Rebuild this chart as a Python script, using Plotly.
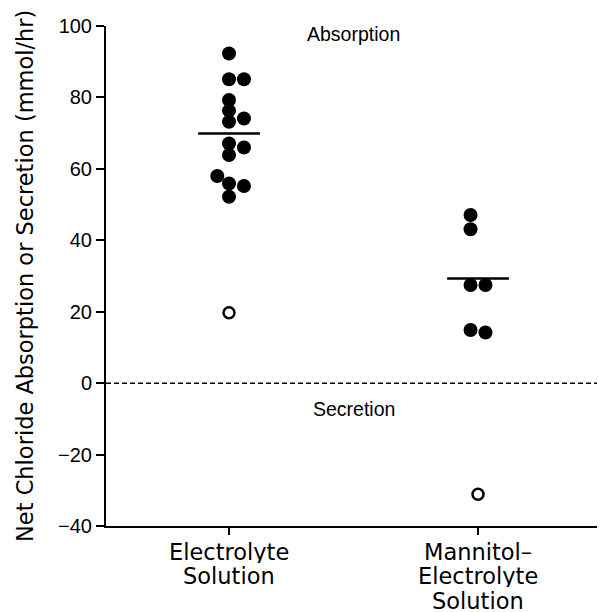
import plotly.graph_objects as go

# ---- data ----
category_lines = [["Electrolyte", "Solution"], ["Mannitol–", "Electrolyte", "Solution"]]
category_pos = [0, 1]
electrolyte_filled = [92.3, 85.1, 85.1, 79.3, 76.3, 74.1, 73.2, 67.1, 66.0, 63.9, 58.0, 55.9, 55.2, 52.2]
electrolyte_jitter = [0, 0, 0.06, 0, 0, 0.06, 0, 0, 0.06, 0, -0.047, 0, 0.06, 0]
electrolyte_open = [19.7]
electrolyte_mean = 69.9
mannitol_filled = [47.1, 43.1, 27.5, 27.5, 14.9, 14.2]
mannitol_jitter = [-0.03, -0.03, -0.03, 0.03, -0.03, 0.03]
mannitol_open = [-31.1]
mannitol_mean = 29.3
y_ticks = [-40, -20, 0, 20, 40, 60, 80, 100]
y_ticktext = ["−40", "−20", "0", "20", "40", "60", "80", "100"]

TICK_FONT = dict(family="Liberation Sans, Arial", size=20, color="black")
LABEL_FONT = dict(family="Liberation Sans, Arial", size=19.5, color="black")
CAT_FONT = dict(family="DejaVu Sans", size=22.5, color="black")
TITLE_FONT = dict(family="DejaVu Sans", size=22.5, color="black")

fig = go.Figure()

filled_style = dict(mode="markers", marker=dict(symbol="circle", size=14, color="black"),
                    showlegend=False, hoverinfo="y")
open_style = dict(mode="markers",
                  marker=dict(symbol="circle-open", size=11, color="black", line=dict(width=2.5)),
                  showlegend=False, hoverinfo="y")

fig.add_trace(go.Scatter(x=[category_pos[0] + j for j in electrolyte_jitter], y=electrolyte_filled, **filled_style))
fig.add_trace(go.Scatter(x=[category_pos[0]] * len(electrolyte_open), y=electrolyte_open, **open_style))
fig.add_trace(go.Scatter(x=[category_pos[1] + j for j in mannitol_jitter], y=mannitol_filled, **filled_style))
fig.add_trace(go.Scatter(x=[category_pos[1]] * len(mannitol_open), y=mannitol_open, **open_style))

# mean bars
hw = 0.124
for cx, m in [(category_pos[0], electrolyte_mean), (category_pos[1], mannitol_mean)]:
    fig.add_trace(go.Scatter(x=[cx - hw, cx + hw], y=[m, m], mode="lines",
                             line=dict(color="black", width=2.5), showlegend=False, hoverinfo="skip"))

# zero dashed line
fig.add_shape(type="line", xref="paper", yref="y", x0=0, x1=1, y0=0, y1=0,
              line=dict(color="black", width=1.5, dash="5px,3px"))

fig.add_annotation(x=0.5, y=97.8, xref="x", yref="y", text="Absorption", showarrow=False,
                   font=LABEL_FONT, xanchor="center", yanchor="middle")
fig.add_annotation(x=0.5, y=-7.2, xref="x", yref="y", text="Secretion", showarrow=False,
                   font=LABEL_FONT, xanchor="center", yanchor="middle")
fig.add_annotation(x=(25 - 106) / 499, y=0.5, xref="paper", yref="paper",
                   text="Net Chloride Absorption or Secretion (mmol/hr)", textangle=-90,
                   showarrow=False, font=TITLE_FONT, xanchor="center", yanchor="middle")

# category labels, one line each
line_y = [-0.05, -0.099, -0.148]
for pos, lines in zip(category_pos, category_lines):
    for i, txt in enumerate(lines):
        fig.add_annotation(x=pos, y=line_y[i], xref="x", yref="paper", text=txt, showarrow=False,
                           font=CAT_FONT, xanchor="center", yanchor="middle", height=23)

fig.update_xaxes(range=[-0.494, 1.510], tickvals=category_pos, ticktext=["", ""],
                 showline=True, linecolor="black", linewidth=2, ticks="outside", ticklen=7,
                 tickwidth=2, tickcolor="black", showgrid=False, zeroline=False, automargin=False)
fig.update_yaxes(range=[-40, 100], tickvals=y_ticks, ticktext=y_ticktext,
                 showline=True, linecolor="black", linewidth=2, ticks="outside", ticklen=8,
                 tickwidth=2, tickcolor="black", showgrid=False, zeroline=False,
                 tickfont=TICK_FONT, automargin=False)

# page body has an 8px margin, so the figure is 8px smaller and margins shifted
fig.update_layout(width=597, height=604, margin=dict(l=98, r=0, t=18, b=86),
                  plot_bgcolor="white", paper_bgcolor="white")

fig.write_html("out.html")
